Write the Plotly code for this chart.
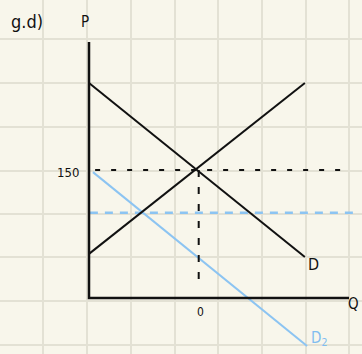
import plotly.graph_objects as go

# everything in grid-cell units, origin at the axis corner
supply_q = [0.0, 4.94]
supply_p = [1.01, 4.92]
demand_q = [0.0, 4.94]
demand_p = [4.92, 0.94]
demand2_q = [0.09, 4.99]
demand2_p = [2.88, -1.10]

price_line_q = [0.14, 5.93]
price_line_p = [2.93, 2.93]
qty_line_q = [2.51, 2.51]
qty_line_p = [2.93, 0.34]
price2_line_q = [0.02, 6.09]
price2_line_p = [1.95, 1.95]

axis_y_q = [0.0, 0.0, 5.95]
axis_y_p = [5.86, 0.0, 0.0]

grid_x = [-1.05, -0.05, 0.96, 1.97, 2.95, 3.96, 4.97, 5.95]
grid_y = [-1.08, -0.07, 0.94, 1.92, 2.91, 3.91, 4.92, 5.93]

labels = ["g.d)", "P", "150", "0", "D", "Q", "D<sub>2</sub>"]
label_q = [-1.42, -0.09, -0.48, 2.56, 5.13, 6.06, 5.26]
label_p = [6.32, 6.32, 2.88, -0.32, 0.76, -0.14, -0.92]
label_color = ["#111", "#111", "#111", "#111", "#111", "#111", "#7fbdf0"]
label_size = [18, 15, 13, 12, 16, 15, 15]

BLACK = "#111111"
BLUE = "#8cc4f2"

fig = go.Figure()


def line(x, y, color, width=2, dash="solid"):
    fig.add_trace(go.Scatter(
        x=x, y=y, mode="lines",
        line={"color": color, "width": width, "dash": dash},
        hoverinfo="skip", showlegend=False,
    ))


line(price2_line_q, price2_line_p, BLUE, 2.5, "8px,7px")
line(demand2_q, demand2_p, BLUE, 2)
line(price_line_q, price_line_p, BLACK, 2, "5px,11px")
line(qty_line_q, qty_line_p, BLACK, 2, "7px,10px")
line(supply_q, supply_p, BLACK, 2)
line(demand_q, demand_p, BLACK, 2)
line(axis_y_q, axis_y_p, BLACK, 2.5)

for t, x, y, c, s in zip(labels, label_q, label_p, label_color, label_size):
    fig.add_annotation(
        x=x, y=y, text=t, showarrow=False,
        font={"family": "DejaVu Sans Condensed", "size": s, "color": c},
    )

fig.update_xaxes(
    range=[-2.037, 6.247], tickvals=grid_x, showticklabels=False,
    showgrid=True, gridcolor="#e3e1d4", gridwidth=2,
    zeroline=False, showline=False, fixedrange=True,
)
fig.update_yaxes(
    range=[-1.281, 6.819], tickvals=grid_y, showticklabels=False,
    showgrid=True, gridcolor="#e3e1d4", gridwidth=2,
    zeroline=False, showline=False, fixedrange=True,
)
fig.update_layout(
    width=362, height=354,
    margin=dict(t=0, b=0, l=0, r=0),
    paper_bgcolor="#f8f6eb",
    plot_bgcolor="#f8f6eb",
)

fig.write_html(
    "out.html",
    config={"displayModeBar": False},
    post_script="document.body.style.margin='0';"
                "document.body.style.background='#f8f6eb';",
)
